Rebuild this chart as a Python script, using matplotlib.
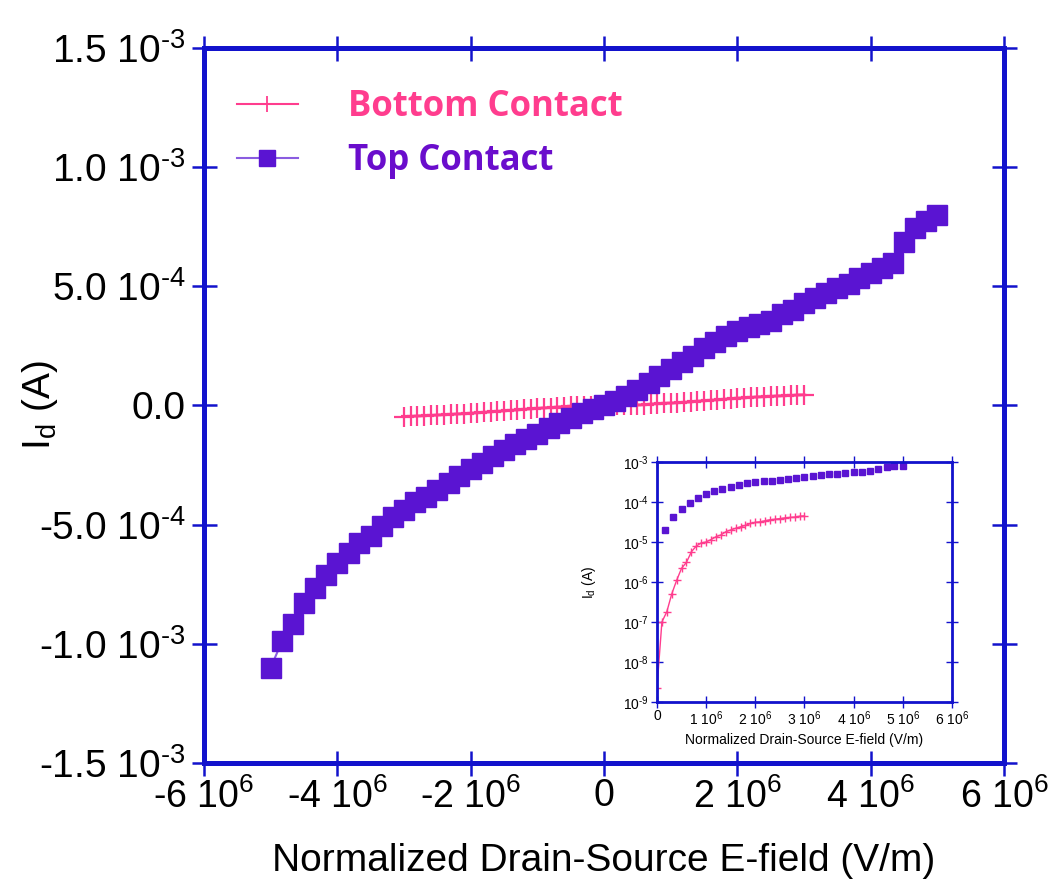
import numpy as np
import matplotlib.pyplot as plt
from matplotlib.lines import Line2D

plt.rcParams["font.family"] = ["Liberation Sans", "DejaVu Sans"]
plt.rcParams["mathtext.fontset"] = "custom"
plt.rcParams["mathtext.rm"] = "Liberation Sans"
plt.rcParams["mathtext.it"] = "Liberation Sans:italic"
plt.rcParams["mathtext.default"] = "regular"

AXIS_BLUE = "#1212CC"
PINK = "#FF3D8E"
PURPLE = "#5A14D2"
PURPLE_LINE = "#8A5CE0"
PURPLE_TEXT = "#6A0DCC"
HY = "\u2010"  # short hyphen for exponents

# Top contact sweep: field in MV/m, drain current in mA
top_field = [
    -5.00, -4.83, -4.67, -4.50, -4.33, -4.17, -4.00, -3.83, -3.67, -3.50,
    -3.33, -3.17, -3.00, -2.83, -2.67, -2.50, -2.33, -2.17, -2.00, -1.83,
    -1.67, -1.50, -1.33, -1.17, -1.00, -0.83, -0.67, -0.50, -0.33, -0.17,
    0.00,
    0.17, 0.33, 0.50, 0.67, 0.83, 1.00, 1.17, 1.33, 1.50, 1.67,
    1.83, 2.00, 2.17, 2.33, 2.50, 2.67, 2.83, 3.00, 3.17, 3.33,
    3.50, 3.67, 3.83, 4.00, 4.17, 4.33, 4.50, 4.67, 4.83, 5.00,
]
top_current = [
    -1.100, -0.990, -0.915, -0.830, -0.766, -0.711, -0.662, -0.618, -0.579, -0.548,
    -0.506, -0.468, -0.440, -0.405, -0.383, -0.354, -0.325, -0.295, -0.266, -0.240,
    -0.214, -0.188, -0.163, -0.142, -0.120, -0.096, -0.073, -0.051, -0.031, -0.013,
    0.0,
    0.020, 0.041, 0.067, 0.095, 0.125, 0.155, 0.183, 0.208, 0.240, 0.268,
    0.292, 0.312, 0.330, 0.342, 0.356, 0.382, 0.402, 0.430, 0.452, 0.472,
    0.492, 0.508, 0.535, 0.555, 0.575, 0.598, 0.686, 0.745, 0.775, 0.800,
]

# Bottom contact sweep: field in MV/m, drain current in A
bottom_field = [
    -3.0, -2.9, -2.8, -2.7, -2.6, -2.5, -2.4, -2.3, -2.2, -2.1,
    -2.0, -1.9, -1.8, -1.7, -1.6, -1.5, -1.4, -1.3, -1.2, -1.1,
    -1.0, -0.9, -0.8, -0.7, -0.6, -0.5, -0.4, -0.3, -0.2, -0.1,
    0.0,
    0.1, 0.2, 0.3, 0.4, 0.5, 0.6, 0.7, 0.8, 0.9, 1.0,
    1.1, 1.2, 1.3, 1.4, 1.5, 1.6, 1.7, 1.8, 1.9, 2.0,
    2.1, 2.2, 2.3, 2.4, 2.5, 2.6, 2.7, 2.8, 2.9, 3.0,
]
bottom_current = [
    -4.7e-5, -4.55e-5, -4.4e-5, -4.3e-5, -4.15e-5, -4.0e-5, -3.85e-5, -3.7e-5, -3.55e-5, -3.4e-5,
    -3.25e-5, -3.05e-5, -2.85e-5, -2.65e-5, -2.45e-5, -2.25e-5, -2.05e-5, -1.85e-5, -1.6e-5, -1.4e-5,
    -1.2e-5, -1.0e-5, -8.5e-6, -6.5e-6, -4.5e-6, -2.8e-6, -1.5e-6, -6.0e-7, -2.0e-7, -1.0e-7,
    2.2e-9,
    1.0e-7, 1.8e-7, 5.0e-7, 1.1e-6, 2.2e-6, 3.1e-6, 5.7e-6, 7.9e-6, 9.5e-6, 1.0e-5,
    1.15e-5, 1.35e-5, 1.5e-5, 1.8e-5, 2.0e-5, 2.2e-5, 2.4e-5, 2.6e-5, 2.9e-5, 3.1e-5,
    3.2e-5, 3.4e-5, 3.6e-5, 3.7e-5, 3.85e-5, 4.0e-5, 4.1e-5, 4.2e-5, 4.4e-5, 4.5e-5,
]

main_yticks = [-1.5e-3, -1.0e-3, -5.0e-4, 0.0, 5.0e-4, 1.0e-3, 1.5e-3]
main_ylabels = [f"-1.5 10$^{{{HY}3}}$", f"-1.0 10$^{{{HY}3}}$", f"-5.0 10$^{{{HY}4}}$", "0.0",
                f"5.0 10$^{{{HY}4}}$", f"1.0 10$^{{{HY}3}}$", f"1.5 10$^{{{HY}3}}$"]
main_xticks = [-6e6, -4e6, -2e6, 0, 2e6, 4e6, 6e6]
main_xlabels = ["-6 10$^{6}$", "-4 10$^{6}$", "-2 10$^{6}$", "0",
                "2 10$^{6}$", "4 10$^{6}$", "6 10$^{6}$"]
inset_yticks = [1e-9, 1e-8, 1e-7, 1e-6, 1e-5, 1e-4, 1e-3]
inset_ylabels = [f"10$^{{{HY}{k}}}$" for k in (9, 8, 7, 6, 5, 4, 3)]
inset_xticks = [0, 1e6, 2e6, 3e6, 4e6, 5e6, 6e6]
inset_xlabels = ["0", "1 10$^{6}$", "2 10$^{6}$", "3 10$^{6}$",
                 "4 10$^{6}$", "5 10$^{6}$", "6 10$^{6}$"]

x_top = np.array(top_field) * 1e6
y_top = np.array(top_current) * 1e-3
x_bot = np.array(bottom_field) * 1e6
y_bot = np.array(bottom_current)


def style_axes(ax, spine_w, tick_len, tick_w, label_size, xpad, ypad):
    for sp in ax.spines.values():
        sp.set_color(AXIS_BLUE)
        sp.set_linewidth(spine_w)
    ax.tick_params(which="major", direction="inout", length=tick_len,
                   width=tick_w, color=AXIS_BLUE, top=True, right=True,
                   labelsize=label_size)
    ax.tick_params(axis="x", pad=xpad)
    ax.tick_params(axis="y", pad=ypad)
    ax.tick_params(which="minor", left=False, right=False, bottom=False, top=False)


fig = plt.figure(figsize=(10.52, 8.84), dpi=100)
fig.patch.set_facecolor("white")
ax = fig.add_axes([0.1939, 0.1369, 0.7605, 0.8088])

ax.plot(x_bot, y_bot, color=PINK, lw=2, marker="+", ms=15, mew=1.6, zorder=2)
ax.plot(x_top, y_top, color=PURPLE_LINE, lw=1.5, marker="s", ms=14,
        mfc=PURPLE, mec=PURPLE, zorder=3)

ax.set_xlim(-6e6, 6e6)
ax.set_ylim(-1.5e-3, 1.5e-3)
ax.set_xticks(main_xticks)
ax.set_xticklabels(main_xlabels)
ax.set_yticks(main_yticks)
ax.set_yticklabels(main_ylabels)
style_axes(ax, 3.6, 18, 1.8, 27, 2, 4)
for lbl in ax.get_yticklabels():
    lbl.set_fontsize(28)

ax.set_xlabel("Normalized Drain-Source E-field (V/m)", fontsize=28)
ax.xaxis.set_label_coords(0.5, -0.112)
ax.set_ylabel("I$_d$ (A)", fontsize=28)
ax.yaxis.set_label_coords(-0.18, 0.5)

legend_handles = [
    Line2D([], [], color=PINK, lw=1.5, marker="+", ms=11, mew=1.3),
    Line2D([], [], color=PURPLE_LINE, lw=1.5, marker="s", ms=11,
           mfc=PURPLE, mec=PURPLE),
]
leg = ax.legend(legend_handles, ["Bottom Contact", "Top Contact"],
                loc="upper left", bbox_to_anchor=(0.041, 0.943),
                frameon=False, handlelength=1.75, handletextpad=1.45,
                labelspacing=0.52, borderpad=0, borderaxespad=0,
                prop={"family": "Open Sans", "weight": "bold", "size": 25})
for txt, c in zip(leg.get_texts(), [PINK, PURPLE_TEXT]):
    txt.set_color(c)

# log-scale inset of the positive branch
ins = fig.add_axes([0.6245, 0.2059, 0.2804, 0.2715])
ins.set_facecolor("white")
pos_top = x_top > 0
pos_bot = x_bot >= 0
ins.plot(x_bot[pos_bot], y_bot[pos_bot], color=PINK, lw=1, marker="+",
         ms=6, mew=1)
ins.plot(x_top[pos_top], y_top[pos_top], ls="none", marker="s", ms=5,
         mfc=PURPLE, mec=PURPLE)
ins.set_yscale("log")
ins.set_xlim(0, 6e6)
ins.set_ylim(1e-9, 1e-3)
ins.set_xticks(inset_xticks)
ins.set_xticklabels(inset_xlabels)
ins.set_yticks(inset_yticks)
ins.set_yticklabels(inset_ylabels)
ins.minorticks_off()
style_axes(ins, 2, 8, 1, 10, 1, 2)
ins.set_xlabel("Normalized Drain-Source E-field (V/m)", fontsize=10)
ins.xaxis.set_label_coords(0.5, -0.13)
ins.set_ylabel("I$_d$ (A)", fontsize=10)
ins.yaxis.set_label_coords(-0.2, 0.5)

fig.savefig("out.png", dpi=100, facecolor="white")
